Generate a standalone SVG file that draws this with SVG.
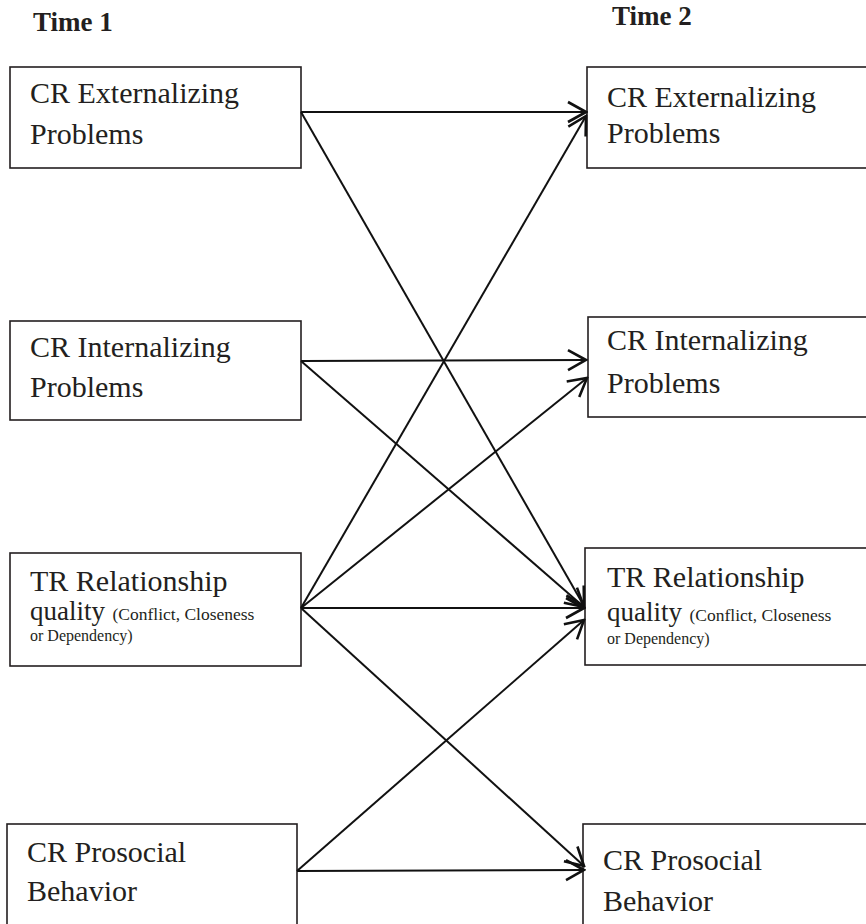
<svg xmlns="http://www.w3.org/2000/svg" width="866" height="924" viewBox="0 0 866 924">
<style>
.box{fill:#fff;stroke:#231f20;stroke-width:1.6}
.t{font-family:"Liberation Serif","Times New Roman",serif;font-size:30px;fill:#231f20}
.q{font-size:27px}
.s{font-size:17.5px}
.d{font-size:16px}
.h{font-family:"Liberation Serif","Times New Roman",serif;font-size:27px;font-weight:bold;fill:#231f20}
.c{stroke:#111;stroke-width:2;fill:none}
</style>
<defs>
<marker id="ah" markerUnits="userSpaceOnUse" viewBox="0 0 22 26" refX="20" refY="13" markerWidth="22" markerHeight="26" orient="auto">
<path d="M2,3 L20,13 L2,23" fill="none" stroke="#111" stroke-width="2.6"/>
</marker>
</defs>
<rect width="866" height="924" fill="#fff"/>
<text class="h" x="33" y="31">Time 1</text>
<text class="h" x="612" y="25">Time 2</text>
<g id="L1"><rect class="box" x="10" y="67" width="291" height="101"/><text class="t" x="30" y="103">CR Externalizing</text><text class="t" x="30" y="144">Problems</text></g>
<g id="L2"><rect class="box" x="10" y="321" width="291" height="99"/><text class="t" x="30" y="357">CR Internalizing</text><text class="t" x="30" y="397">Problems</text></g>
<g id="L3"><rect class="box" x="10" y="553" width="291" height="113"/><text class="t" x="30" y="591">TR Relationship</text><text class="t" x="30" y="620"><tspan class="q">quality</tspan> <tspan class="s">(Conflict, Closeness</tspan></text><text class="t d" x="30" y="641">or Dependency)</text></g>
<g id="L4"><rect class="box" x="7" y="824" width="290" height="110"/><text class="t" x="27" y="862">CR Prosocial</text><text class="t" x="27" y="901">Behavior</text></g>
<g id="R1"><rect class="box" x="587" y="67" width="290" height="101"/><text class="t" x="607" y="107">CR Externalizing</text><text class="t" x="607" y="143">Problems</text></g>
<g id="R2"><rect class="box" x="588" y="317" width="290" height="100"/><text class="t" x="607" y="350">CR Internalizing</text><text class="t" x="607" y="393">Problems</text></g>
<g id="R3"><rect class="box" x="585" y="548" width="292" height="117"/><text class="t" x="607" y="587">TR Relationship</text><text class="t" x="607" y="621"><tspan class="q">quality</tspan> <tspan class="s">(Conflict, Closeness</tspan></text><text class="t d" x="607" y="644">or Dependency)</text></g>
<g id="R4"><rect class="box" x="583" y="824" width="294" height="110"/><text class="t" x="603" y="870">CR Prosocial</text><text class="t" x="603" y="911">Behavior</text></g>
<g id="connectors">
<line class="c" x1="301" y1="112" x2="586" y2="112" marker-end="url(#ah)"/>
<line class="c" x1="301" y1="112" x2="584" y2="606" marker-end="url(#ah)"/>
<line class="c" x1="301" y1="361" x2="586" y2="360" marker-end="url(#ah)"/>
<line class="c" x1="301" y1="361" x2="584" y2="607" marker-end="url(#ah)"/>
<line class="c" x1="301" y1="608" x2="586" y2="116" marker-end="url(#ah)"/>
<line class="c" x1="301" y1="608" x2="587" y2="378" marker-end="url(#ah)"/>
<line class="c" x1="301" y1="608" x2="584" y2="608" marker-end="url(#ah)"/>
<line class="c" x1="301" y1="608" x2="584" y2="866" marker-end="url(#ah)"/>
<line class="c" x1="297" y1="871" x2="584" y2="620" marker-end="url(#ah)"/>
<line class="c" x1="297" y1="871" x2="584" y2="870" marker-end="url(#ah)"/>
</g>
</svg>
